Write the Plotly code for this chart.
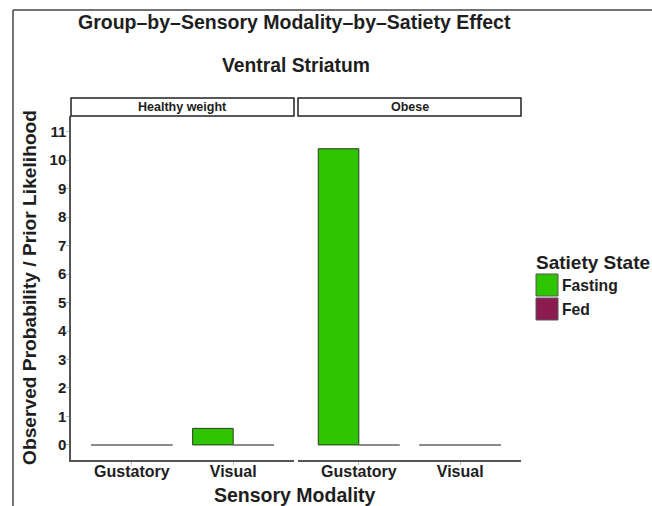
import plotly.graph_objects as go

# ---- data ----
groups = ["Healthy weight", "Obese"]
modalities = ["Gustatory", "Visual"]
states = ["Fasting", "Fed"]
fasting_values = {"Healthy weight": [0, 0.58], "Obese": [10.4, 0]}
fed_values = {"Healthy weight": [0, 0], "Obese": [0, 0]}
state_colors = ["#2EC500", "#8C1B50"]
y_ticks = list(range(0, 12))

# ---- layout helpers ----
W, H = 652, 506
L, R, T, B = 71, 131, 116, 46
pw = W - L - R
ph = H - T - B
gap = 4 / pw
dom1 = [0, 0.5 - gap / 2]
dom2 = [0.5 + gap / 2, 1]


def px_x(p):
    return (p - L) / pw


def px_y(p):
    return (H - B - p) / ph


FONT = "Liberation Sans, Arial, sans-serif"
TXT = "#1e1e1e"
fig = go.Figure()

xpos = list(range(1, len(modalities) + 1))
bar_w = 0.4
offsets = [-0.4, 0.0]
series = [fasting_values, fed_values]

for gi, g in enumerate(groups):
    xa = "x" if gi == 0 else "x2"
    for si, s in enumerate(states):
        vals = series[si][g]
        fig.add_trace(go.Bar(
            x=xpos, y=vals, xaxis=xa, yaxis="y",
            width=bar_w, offset=offsets[si],
            marker=dict(color=state_colors[si], line=dict(color="#2b3a22", width=1)),
            name=s, showlegend=False,
        ))
        # zero-height bars drawn as outline lines (as in ggplot)
        lx, ly = [], []
        for xi, v in zip(xpos, vals):
            if v == 0:
                lx += [xi + offsets[si], xi + offsets[si] + bar_w, None]
                ly += [0, 0, None]
        if lx:
            fig.add_trace(go.Scatter(
                x=lx, y=ly, xaxis=xa, yaxis="y", mode="lines",
                line=dict(color="#8a8a8a", width=2),
                showlegend=False, hoverinfo="skip",
            ))

xcommon = dict(
    range=[0.4, 2.6], tickvals=xpos, ticktext=modalities,
    showgrid=False, zeroline=False, showline=True, linecolor="#555555", linewidth=1.5,
    ticks="outside", ticklen=3, tickcolor="#bbbbbb",
    ticklabelstandoff=-7,
    tickfont=dict(family=FONT, size=16, color=TXT, weight="bold"),
    fixedrange=True,
)
fig.update_layout(
    width=W, height=H,
    margin=dict(l=L, r=R, t=T, b=B),
    paper_bgcolor="white", plot_bgcolor="white",
    barmode="overlay",
    xaxis=dict(domain=dom1, anchor="y", **xcommon),
    xaxis2=dict(domain=dom2, anchor="y", **xcommon),
    yaxis=dict(
        range=[-0.53, 11.55], tickvals=y_ticks, ticktext=[str(t) for t in y_ticks],
        showgrid=False, zeroline=False, showline=True, linecolor="#555555", linewidth=1.5,
        ticks="outside", ticklen=3, tickcolor="#bbbbbb",
        ticklabelstandoff=-3,
        tickfont=dict(family=FONT, size=15, color=TXT, weight="bold"),
        fixedrange=True,
    ),
    showlegend=False,
)

shapes = []
annotations = []

# strips
strip_top = px_y(98)
for dom, g in zip([dom1, dom2], groups):
    shapes.append(dict(type="rect", xref="paper", yref="paper",
                       x0=dom[0], x1=dom[1], y0=1.0, y1=strip_top,
                       line=dict(color="#222222", width=1.5), fillcolor="white"))
    annotations.append(dict(text=g, xref="paper", yref="paper",
                            x=(dom[0] + dom[1]) / 2, y=(1 + strip_top) / 2,
                            xanchor="center", yanchor="middle", showarrow=False,
                            font=dict(family=FONT, size=12.5, color=TXT, weight="bold")))

# titles
annotations.append(dict(text="Group–by–Sensory Modality–by–Satiety Effect",
                        xref="paper", yref="paper", x=px_x(294), y=px_y(22),
                        xanchor="center", yanchor="middle", showarrow=False,
                        font=dict(family=FONT, size=19.5, color=TXT, weight="bold")))
annotations.append(dict(text="Ventral Striatum",
                        xref="paper", yref="paper", x=px_x(296), y=px_y(66),
                        xanchor="center", yanchor="middle", showarrow=False,
                        font=dict(family=FONT, size=19.3, color=TXT, weight="bold")))
annotations.append(dict(text="Sensory Modality",
                        xref="paper", yref="paper", x=px_x(295), y=px_y(495),
                        xanchor="center", yanchor="middle", showarrow=False,
                        font=dict(family=FONT, size=19.5, color=TXT, weight="bold")))
annotations.append(dict(text="Observed Probability / Prior Likelihood",
                        xref="paper", yref="paper", x=px_x(29), y=px_y(288),
                        xanchor="center", yanchor="middle", showarrow=False, textangle=-90,
                        font=dict(family=FONT, size=19.2, color=TXT, weight="bold")))

# legend (drawn manually to match ggplot key sizes)
annotations.append(dict(text="Satiety State", xref="paper", yref="paper",
                        x=px_x(534), y=px_y(262), xanchor="left", yanchor="middle",
                        showarrow=False,
                        font=dict(family=FONT, size=19, color=TXT, weight="bold")))
for i, (s, c) in enumerate(zip(states, state_colors)):
    top = 274 + i * 24
    shapes.append(dict(type="rect", xref="paper", yref="paper",
                       x0=px_x(536), x1=px_x(558), y0=px_y(top), y1=px_y(top + 22),
                       line=dict(color="#555555", width=1), fillcolor=c))
    annotations.append(dict(text=s, xref="paper", yref="paper",
                            x=px_x(560), y=px_y(top + 11), xanchor="left", yanchor="middle",
                            showarrow=False,
                            font=dict(family=FONT, size=15.7, color=TXT, weight="bold")))

# screenshot frame lines
shapes.append(dict(type="line", xref="paper", yref="paper",
                   x0=px_x(13), x1=px_x(652), y0=px_y(10), y1=px_y(10),
                   line=dict(color="#444444", width=1.5)))
shapes.append(dict(type="line", xref="paper", yref="paper",
                   x0=px_x(13), x1=px_x(13), y0=px_y(10), y1=px_y(506),
                   line=dict(color="#444444", width=1.5)))

fig.update_layout(shapes=shapes, annotations=annotations)
fig.write_html(
    "out.html",
    config={"displayModeBar": False},
    post_script="document.body.style.margin='0';document.body.style.overflow='hidden';",
)
